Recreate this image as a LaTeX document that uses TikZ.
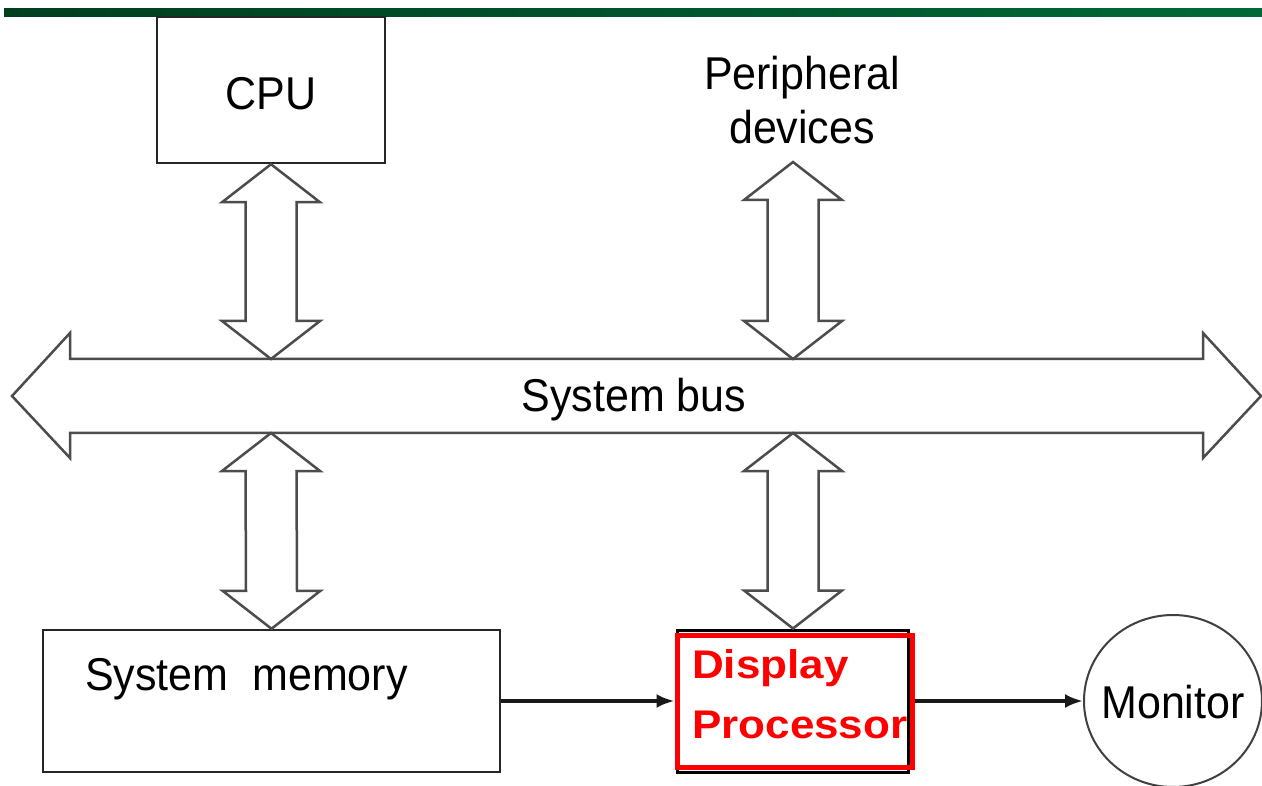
\documentclass[tikz,border=0pt]{standalone}
\usepackage{fontspec}
\setmainfont{Liberation Sans}
\usetikzlibrary{calc,arrows.meta,shapes.geometric}
\definecolor{barleft}{RGB}{0,62,32}
\definecolor{barright}{RGB}{0,105,55}
\definecolor{dpred}{RGB}{255,0,0}
\tikzset{
  boxline/.style={draw=black!85, line width=2.5pt},
  blockarrow/.style={draw=black!70, line width=2.5pt, line join=miter, fill=white},
  conn/.style={draw=black!90, line width=3.5pt, -{Latex[length=18pt,width=14pt]}},
  lbl/.style={inner sep=0pt, font=\fontsize{43}{50}\selectfont},
}
\newcommand{\tx}[1]{\scalebox{1}[1.07]{#1}}
% vertical block double arrow from top tip #1 to bottom tip #2
\newcommand{\vdblarrow}[2]{%
  \draw[blockarrow] (#1) -- ++(49,38) -- ++(-23.5,0) -- ($(#2)+(25.5,-38)$)
    -- ++(23.5,0) -- (#2) -- ++(-49,-38) -- ++(23.5,0)
    -- ($(#1)+(-25.5,38)$) -- ++(-23.5,0) -- cycle;}
\begin{document}
\begin{tikzpicture}[x=1pt,y=-1pt]
\useasboundingbox (0,0) rectangle (1262,786);
\fill[white] (0,0) rectangle (1262,786);
% top green bar
\shade[left color=barleft, right color=barright] (4,9) rectangle (1262,17);

% boxes
\node[boxline, minimum width=228pt, minimum height=146pt, inner sep=0pt] (cpu) at (271,90) {};
\node[lbl, anchor=base] (cputext) at (271,110) {\tx{CPU}};
\node[lbl, anchor=base] (periph) at (802,90)
  {\tx{\begin{tabular}[t]{@{}c@{}}Peripheral\\devices\end{tabular}}};

\node[boxline, minimum width=457pt, minimum height=142pt, inner sep=0pt] (mem) at (271.5,701) {};
\node[lbl, anchor=base west] (memtext) at (85,690) {\tx{System\ \ memory}};

\node[draw=black, line width=3pt, minimum width=231pt, minimum height=142pt, inner sep=0pt] (dispback) at (792.5,701) {};
\node[draw=dpred, line width=5pt, minimum width=235pt, minimum height=132pt, inner sep=0pt] (disp) at (794.5,701) {};
\node[inner sep=0pt, anchor=base west, text=dpred,
      font=\fontsize{40}{60}\selectfont\bfseries] (disptext) at (692,678)
  {\scalebox{1.1}[1]{\begin{tabular}[t]{@{}l@{}}Display\\Processor\end{tabular}}};

\node[draw=black!75, line width=2pt, ellipse, minimum width=178pt, minimum height=172pt, inner sep=0pt] (mon) at (1173,701) {};
\node[lbl, anchor=base] (montext) at (1173,718) {\tx{Monitor}};

% system bus
\coordinate (busL) at (12,396);
\coordinate (busR) at (1261,396);
\draw[blockarrow] (busL) -- ($(busL)+(58,-63)$) -- ++(0,26) -- ($(busR)+(-58,-37)$) -- ++(0,-26)
  -- (busR) -- ($(busR)+(-58,62)$) -- ++(0,-25) -- ($(busL)+(58,37)$) -- ++(0,25) -- cycle;
\node[lbl, anchor=base] (bus) at (634,412) {\tx{System bus}};
\coordinate (bustopCPU) at (271,359);
\coordinate (bustopPer) at (793,359);
\coordinate (busbotMem) at (271,433);
\coordinate (busbotDisp) at (793,433);
\coordinate (perBottom) at (793,162);

% vertical double arrows
\vdblarrow{cpu.south}{bustopCPU}
\vdblarrow{perBottom}{bustopPer}
\vdblarrow{busbotMem}{mem.north}
\vdblarrow{busbotDisp}{dispback.north -| busbotDisp}

% connectors
\draw[conn] (mem.east) -- (disp.west);
\draw[conn] (disp.east) -- (mon.west);
\end{tikzpicture}
\end{document}
